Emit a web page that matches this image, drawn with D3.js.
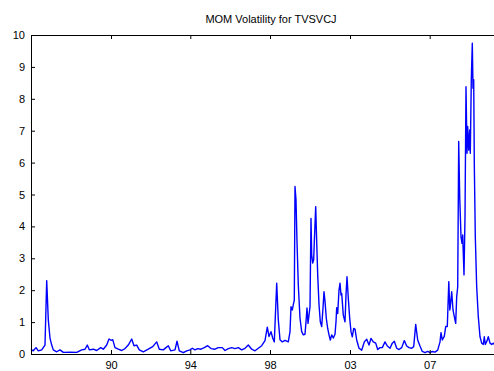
<!DOCTYPE html>
<html>
<head>
<meta charset="utf-8">
<script src="https://cdn.jsdelivr.net/npm/d3@7"></script>
<style>
  html, body { margin: 0; padding: 0; background: #fff; }
  svg { display: block; }
  text { font-family: "Liberation Sans", Arial, sans-serif; }
</style>
</head>
<body>
<script>
// Observation index (x) and MOM volatility (y)
const obs = [0,0.7,2.3,5,7.3,10.7,14,15.7,17.3,19,20.7,22.3,25.7,29,32.3,39,45.7,50.7,54,56.3,58.3,62.3,65.7,69.7,72.3,75.7,78,80,81.7,84,87.3,90.7,94,97.3,100.7,103,105.7,108.3,112.3,117.3,121.7,125.7,128.3,132.3,135,137.3,139.7,144,146,148.3,152.3,155.7,159,161.3,164,166.7,170,173.3,176.7,180,184,187.3,191.3,194,197.3,200.7,204,207.3,210.7,214,217.3,220.7,224,227.3,230.7,234,236.3,238,240,241.7,243.3,245.7,247.3,249,251.3,254,257.3,259,260,261.3,262.3,263.3,264,265,266,267.3,269,270.7,272.3,274,275,276,277,278,279,280,280.7,281.7,282.7,283.3,284.7,285.7,286.7,288,289.3,290.7,292,293,294,295.3,296.7,298,299.3,300.7,302.3,304,305,305.7,306.7,308,309,310,310.7,312.3,314,315,316,317.3,318.7,320,321.3,322.7,324,325.7,328,330.7,333.3,335.7,338,340,342.3,344.7,346.7,349,351.3,354,356.3,359,361.3,363.3,365.7,368,370.7,373.3,375.7,378,380.7,382.7,384.7,386.7,389,391.3,394,396.7,399,401.3,404,406.7,409,410,411.3,413.3,414.7,416.3,417.8,418.8,419.3,420.7,422,423.3,424.7,425.7,426.7,427.7,428.7,430,431,431.7,433,434,435,436,436.7,437.7,438.7,439.3,440.3,441.3,442,442.7,443.3,444.3,445.7,447.3,449,450.7,452.3,453.3,454.3,456,457.3,459,460.7,462.3,463];
const vol = [0.15,0.13,0.10,0.20,0.10,0.13,0.28,2.30,1.07,0.50,0.28,0.13,0.07,0.13,0.05,0.06,0.05,0.13,0.15,0.28,0.13,0.15,0.11,0.20,0.15,0.28,0.47,0.43,0.45,0.20,0.15,0.11,0.17,0.28,0.47,0.26,0.28,0.13,0.07,0.15,0.23,0.38,0.15,0.13,0.20,0.26,0.10,0.13,0.40,0.10,0.04,0.10,0.13,0.18,0.13,0.17,0.15,0.20,0.26,0.17,0.15,0.20,0.20,0.11,0.17,0.20,0.17,0.20,0.13,0.18,0.28,0.15,0.10,0.18,0.26,0.42,0.84,0.55,0.70,0.50,0.38,2.22,1.07,0.45,0.38,0.43,0.38,0.70,1.48,1.38,1.55,1.69,5.25,4.83,3.52,2.16,1.12,0.70,0.60,0.62,1.01,1.44,0.96,1.22,1.48,4.25,3.10,2.85,2.96,3.50,4.62,3.50,2.48,1.55,1.01,0.86,1.44,1.95,1.65,1.12,0.80,0.60,0.44,0.60,0.50,0.62,1.01,1.45,1.27,2.00,2.22,1.85,1.90,1.22,1.01,1.85,2.42,1.75,1.12,0.70,0.54,0.80,0.78,0.44,0.18,0.12,0.38,0.46,0.28,0.49,0.38,0.34,0.14,0.20,0.20,0.38,0.25,0.18,0.34,0.40,0.18,0.14,0.20,0.42,0.25,0.20,0.18,0.23,0.93,0.44,0.25,0.08,0.04,0.08,0.04,0.08,0.06,0.12,0.38,0.67,0.44,0.55,0.86,0.86,2.27,1.38,1.48,1.95,1.38,1.17,0.96,1.80,2.10,6.66,4.93,3.68,3.47,3.73,2.48,4.30,8.38,6.29,7.13,6.39,7.02,6.29,8.59,9.74,8.33,8.60,5.98,3.68,2.10,1.17,0.54,0.34,0.30,0.54,0.30,0.41,0.54,0.34,0.30,0.34,0.30];

// Date labels placed at fixed observation indices
const xTickPos = [80, 159.3, 239, 319, 398.7];
const xTickLabels = ["90", "94", "98", "03", "07"];
const yTicks = [0, 1, 2, 3, 4, 5, 6, 7, 8, 9, 10];

const W = 494, H = 371;
const plot = { left: 31, right: 511, top: 35, bottom: 354 };

const svg = d3.select("body").append("svg")
  .attr("width", W).attr("height", H);

const x = d3.scaleLinear().domain([0, 480]).range([plot.left, plot.right]);
const y = d3.scaleLinear().domain([0, 10]).range([plot.bottom, plot.top]);

// Data line
svg.append("path")
  .datum(obs.map((t, i) => [t, vol[i]]))
  .attr("fill", "none")
  .attr("stroke", "#0000ff")
  .attr("stroke-width", 1.4)
  .attr("stroke-linejoin", "round")
  .attr("d", d3.line().x(d => x(d[0])).y(d => y(d[1])));

// Axes (ticks point inward)
const tickLen = 4;
const xAxis = d3.axisBottom(x).tickValues(xTickPos)
  .tickFormat((d, i) => xTickLabels[i])
  .tickSizeInner(-tickLen).tickSizeOuter(0).tickPadding(7);
const xTop = d3.axisTop(x).tickValues(xTickPos).tickFormat("")
  .tickSizeInner(-tickLen).tickSizeOuter(0);
const yAxis = d3.axisLeft(y).tickValues(yTicks).tickFormat(d3.format("d"))
  .tickSizeInner(-tickLen).tickSizeOuter(0).tickPadding(6);

function style(g) {
  g.selectAll("path.domain").attr("stroke", "#000").attr("stroke-width", 1);
  g.selectAll(".tick line").attr("stroke", "#000").attr("stroke-width", 1);
  g.selectAll(".tick text").attr("fill", "#000").attr("font-size", 11)
    .attr("font-family", "'Liberation Sans', Arial, sans-serif");
}

svg.append("g").attr("transform", `translate(0,${plot.bottom})`).call(xAxis).call(style);
svg.append("g").attr("transform", `translate(0,${plot.top})`).call(xTop).call(style);
svg.append("g").attr("transform", `translate(${plot.left},0)`).call(yAxis).call(style);

// Title
svg.append("text")
  .attr("x", (plot.left + plot.right) / 2)
  .attr("y", 23)
  .attr("text-anchor", "middle")
  .attr("font-size", 11)
  .attr("fill", "#000")
  .text("MOM Volatility for TVSVCJ");
</script>
</body>
</html>
